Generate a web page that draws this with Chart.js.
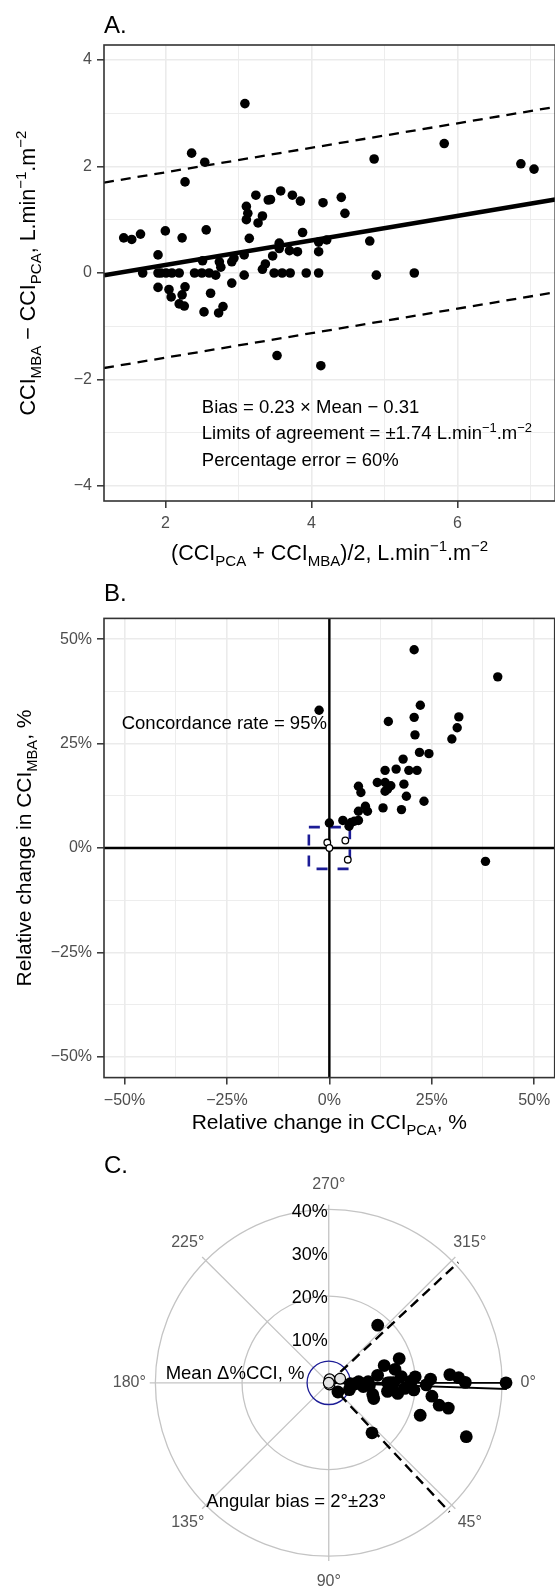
<!DOCTYPE html>
<html>
<head>
<meta charset="utf-8">
<title>CCI agreement: Bland–Altman, four-quadrant and polar plots</title>
<script src="https://cdn.jsdelivr.net/npm/chart.js@4.4.1/dist/chart.umd.min.js"></script>
<style>
  html, body { margin: 0; padding: 0; background: #fff; width: 555px; height: 1595px; overflow: hidden; }
  canvas { position: absolute; left: 0; display: block; }
</style>
</head>
<body>
<canvas id="panelA" width="560" height="575" style="top:0;width:560px;height:575px"></canvas>
<canvas id="panelB" width="560" height="565" style="top:575px;width:560px;height:565px"></canvas>
<canvas id="panelC" width="555" height="455" style="top:1140px;width:555px;height:455px"></canvas>
<script>
const FONT = "'Liberation Sans', Arial, Helvetica, sans-serif";
Chart.defaults.font.family = FONT;

const INK = '#000000';
const AXIS_INK = '#333333';
const TICK_INK = '#4D4D4D';
const GRID_INK = '#EBEBEB';
const POLAR_GRID = '#C4C4C4';
const BLUE = '#1C1C96';

// ---------- A. Bland–Altman: difference vs mean ----------
const meanA = [3.09, 2.36, 2.54, 2.27, 4.86, 5.82, 6.87, 7.05,
  3.24, 3.41, 3.44, 3.58, 3.74, 3.85, 4.16, 4.41, 4.46,
  3.11, 3.13, 3.11, 3.33, 3.27,
  1.43, 1.54, 1.66, 2.00, 2.23, 2.56,
  3.15, 3.88, 4.80, 4.21, 4.10,
  3.56, 3.56, 3.70, 3.81, 4.10,
  3.47, 3.08, 1.90, 2.94, 2.91, 2.74, 2.76, 2.51, 3.33, 3.37,
  1.69, 1.90, 1.94, 2.01, 2.09, 2.19, 2.40, 2.50, 2.60, 2.69, 3.08, 3.49, 3.60, 3.71, 3.93, 4.10,
  4.89, 5.41,
  1.90, 2.05, 2.08, 2.27, 2.23, 2.19, 2.26, 2.62, 2.53, 2.73, 2.79, 2.91, 3.53, 4.13];
const diffA = [3.18, 2.25, 2.08, 1.71, 2.14, 2.43, 2.05, 1.95,
  1.46, 1.37, 1.38, 1.54, 1.46, 1.35, 1.32, 1.42, 1.12,
  1.25, 1.12, 1.00, 1.07, 0.94,
  0.66, 0.63, 0.73, 0.79, 0.66, 0.81,
  0.65, 0.76, 0.60, 0.62, 0.58,
  0.56, 0.46, 0.42, 0.40, 0.40,
  0.32, 0.34, 0.34, 0.28, 0.21, 0.21, 0.11, 0.23, 0.07, 0.17,
  0, 0, 0, 0, 0, 0, 0, 0, 0, -0.04, -0.04, 0, 0, 0, 0, 0,
  -0.04, 0,
  -0.27, -0.31, -0.45, -0.26, -0.41, -0.58, -0.62, -0.38, -0.73, -0.75, -0.63, -0.19, -1.55, -1.74];
const A_X_TICKS = [2, 4, 6];
const A_Y_TICKS = [-4, -2, 0, 2, 4];
const A_X_RANGE = [1.16, 7.34];
const A_Y_RANGE = [-4.28, 4.28];
const BIAS_SLOPE = 0.23;
const BIAS_INTERCEPT = -0.31;
const LIMITS_OF_AGREEMENT = 1.74;
const PERCENTAGE_ERROR = 60;

// ---------- B. Four-quadrant plot of relative changes ----------
const changePcaB = [20.7, 41.1, -2.5, 14.4, 20.7, 22.2, 20.9, 31.6, 31.2, 29.9, 22.0, 24.3, 18.0, 16.3,
  13.6, 19.4, 21.4, 11.7, 13.6, 15.0, 14.2, 13.6, 18.2, 18.8, 7.1, 7.7, 23.1, 13.1, 17.6, 7.1, 8.8, 9.3,
  5.3, 6.1, 7.1, 3.3, 0.0, 38.1, 4.8];
const changeMbaB = [47.5, 41.0, 33.0, 30.3, 31.3, 34.2, 27.1, 31.4, 28.8, 26.1, 22.9, 22.6, 21.3, 18.9,
  18.6, 18.6, 18.6, 15.7, 15.7, 14.9, 14.1, 13.6, 15.3, 12.4, 14.8, 13.3, 11.2, 9.6, 9.2, 8.8, 10.0, 8.8,
  6.1, 6.4, 6.6, 6.6, 6.0, -3.2, 5.2];
const changePcaExcludedB = [-0.5, 0, 3.9, 4.5];
const changeMbaExcludedB = [1.3, 0, 1.8, -2.8];
const B_TICKS = [-50, -25, 0, 25, 50];
const B_RANGE = [-55, 55];
const CONCORDANCE_RATE = 95;
const EXCLUSION_ZONE = 5;

// ---------- C. Polar plot: angle (deg, clockwise from 0°) and mean change (%) ----------
const angleC = [21.5, 0, 49.3, 19.6, 11.5, 12.0, 7.4, -0.2, -2.3, -3.9, 1.2, -2.1, 4.8, 4.2, 8.8, -1.2,
  -4.0, 8.3, 4.1, -0.2, -0.2, 0, -5.0, -11.6, 19.4, 14.9, -19.1, -8.8, -17.4, 6.1, 3.7, -1.6, 4.0, 1.4,
  -2.1, 18.4, 45, -49.8, 2.3];
const meanChangeC = [34.1, 40.9, 15.3, 22.4, 26.0, 28.2, 24.0, 31.5, 30.0, 28.0, 22.5, 23.5, 19.7, 17.6,
  16.1, 19.0, 20.0, 13.7, 14.7, 15.0, 14.2, 13.6, 16.8, 15.6, 11.0, 10.5, 17.2, 11.4, 13.4, 8.0, 9.4, 9.1,
  5.7, 6.3, 6.9, 5.0, 3.0, 17.5, 5.0];
const angleExcludedC = [-77, -20, 66, 0];
const meanChangeExcludedC = [0.85, 2.8, 0.4, 0];
const C_RINGS = [20, 40];
const C_RADIAL_LABELS = [10, 20, 30, 40];
const C_SPOKES = [0, 45, 90, 135, 180, 225, 270, 315];
const ANGULAR_BIAS = 2;
const ANGULAR_SD = 23;

// ---------- helpers ----------
const signed = v => (v < 0 ? '\u2212' : '') + Math.abs(v);
const pct = v => signed(v) + '%';

// segments: [text, kind] with kind undefined (normal), 'b' (subscript) or 'p' (superscript)
function richWidth(ctx, segs, size) {
  let w = 0;
  for (const [t, k] of segs) {
    ctx.font = `${k ? size * 0.7 : size}px ${FONT}`;
    w += ctx.measureText(t).width;
  }
  return w;
}
function drawRich(ctx, segs, x, y, o) {
  const size = o.size;
  ctx.save();
  ctx.translate(x, y);
  if (o.rotate) ctx.rotate(o.rotate);
  ctx.fillStyle = o.color || INK;
  ctx.textBaseline = 'alphabetic';
  ctx.textAlign = 'left';
  const w = richWidth(ctx, segs, size);
  let cx = o.align === 'center' ? -w / 2 : o.align === 'right' ? -w : 0;
  for (const [t, k] of segs) {
    ctx.font = `${k ? size * 0.7 : size}px ${FONT}`;
    const dy = k === 'b' ? size * 0.28 : k === 'p' ? -size * 0.42 : 0;
    ctx.fillText(t, cx, dy);
    cx += ctx.measureText(t).width;
  }
  ctx.restore();
}

function gridAxis({ range, step, labelled, fmt, size, isX }) {
  const major = v => labelled.some(t => Math.abs(t - v) < 1e-6);
  return {
    type: 'linear', min: range[0], max: range[1],
    border: { display: false },
    grid: {
      color: GRID_INK,
      lineWidth: c => (c.tick && major(c.tick.value)) ? 1.6 : 0.9,
      tickLength: 7,
      tickWidth: 1.5,
      tickColor: c => (c.tick && major(c.tick.value)) ? AXIS_INK : 'rgba(0,0,0,0)'
    },
    ticks: {
      stepSize: step, includeBounds: false, autoSkip: false, maxRotation: 0, minRotation: 0,
      padding: isX ? 6 : 5, color: TICK_INK, font: { size: 16 },
      callback: v => major(v) ? fmt(v) : ''
    },
    afterFit: s => {
      if (isX) s.height = size; else s.width = size;
      s.paddingLeft = 0; s.paddingRight = 0; s.paddingTop = 0; s.paddingBottom = 0;
    }
  };
}

function frame(chart) {
  const { ctx, chartArea: a } = chart;
  ctx.save();
  ctx.strokeStyle = AXIS_INK;
  ctx.lineWidth = 1.6;
  ctx.strokeRect(a.left, a.top, a.right - a.left, a.bottom - a.top);
  ctx.restore();
}

const baseOptions = {
  responsive: false,
  animation: false,
  devicePixelRatio: 1,
  plugins: { legend: { display: false }, tooltip: { enabled: false } }
};

// ---------- Panel A ----------
const biasLine = offset => A_X_RANGE.map(x => ({ x, y: BIAS_SLOPE * x + BIAS_INTERCEPT + offset }));
const A_TITLE_X = [['(CCI'], ['PCA', 'b'], [' + CCI'], ['MBA', 'b'], [')/2, L.min'], ['\u22121', 'p'], ['.m'], ['\u22122', 'p']];
const A_TITLE_Y = [['CCI'], ['MBA', 'b'], [' \u2212 CCI'], ['PCA', 'b'], [', L.min'], ['\u22121', 'p'], ['.m'], ['\u22122', 'p']];
const A_NOTES = [
  [[`Bias = ${BIAS_SLOPE.toFixed(2)} \u00D7 Mean \u2212 ${Math.abs(BIAS_INTERCEPT).toFixed(2)}`]],
  [[`Limits of agreement = \u00B1${LIMITS_OF_AGREEMENT.toFixed(2)} L.min`], ['\u22121', 'p'], ['.m'], ['\u22122', 'p']],
  [[`Percentage error = ${PERCENTAGE_ERROR}%`]]
];

new Chart(document.getElementById('panelA'), {
  type: 'scatter',
  data: {
    datasets: [
      { data: meanA.map((m, i) => ({ x: m, y: diffA[i] })), pointRadius: 4.8, backgroundColor: INK,
        pointBackgroundColor: INK, pointBorderWidth: 0, order: 0 },
      { data: biasLine(0), showLine: true, borderColor: INK, borderWidth: 4.5, pointRadius: 0, order: 1 },
      { data: biasLine(LIMITS_OF_AGREEMENT), showLine: true, borderColor: INK, borderWidth: 2.3,
        borderDash: [10, 7], pointRadius: 0, order: 2 },
      { data: biasLine(-LIMITS_OF_AGREEMENT), showLine: true, borderColor: INK, borderWidth: 2.3,
        borderDash: [10, 7], pointRadius: 0, order: 3 }
    ]
  },
  options: {
    ...baseOptions,
    layout: { padding: { top: 45, left: 0, right: 3, bottom: 0 } },
    scales: {
      x: gridAxis({ range: A_X_RANGE, step: 1, labelled: A_X_TICKS, fmt: signed, size: 74, isX: true }),
      y: gridAxis({ range: A_Y_RANGE, step: 1, labelled: A_Y_TICKS, fmt: signed, size: 104, isX: false })
    }
  },
  plugins: [{
    id: 'panelAText',
    afterDatasetsDraw(chart) {
      const { ctx, chartArea: a, scales: { x, y } } = chart;
      frame(chart);
      A_NOTES.forEach((segs, i) => {
        drawRich(ctx, segs, x.getPixelForValue(2.5), y.getPixelForValue(-2.5 - 0.5 * i) + 0.36 * 18.5, { size: 18.5 });
      });
      drawRich(ctx, A_TITLE_X, (a.left + a.right) / 2, 560, { size: 21.5, align: 'center' });
      drawRich(ctx, A_TITLE_Y, 35, (a.top + a.bottom) / 2, { size: 21.5, align: 'center', rotate: -Math.PI / 2 });
      drawRich(ctx, [['A.']], 104, 33, { size: 24 });
    }
  }]
});

// ---------- Panel B ----------
const B_TITLE_X = [['Relative change in CCI'], ['PCA', 'b'], [', %']];
const B_TITLE_Y = [['Relative change in CCI'], ['MBA', 'b'], [', %']];

new Chart(document.getElementById('panelB'), {
  type: 'scatter',
  data: {
    datasets: [
      { data: changePcaExcludedB.map((v, i) => ({ x: v, y: changeMbaExcludedB[i] })), pointRadius: 3.3,
        pointBackgroundColor: '#FFFFFF', pointBorderColor: INK, pointBorderWidth: 1.3, order: 0 },
      { data: changePcaB.map((v, i) => ({ x: v, y: changeMbaB[i] })), pointRadius: 4.7,
        backgroundColor: INK, pointBackgroundColor: INK, pointBorderWidth: 0, order: 1 }
    ]
  },
  options: {
    ...baseOptions,
    layout: { padding: { top: 43.4, left: 0, right: 3, bottom: 0 } },
    scales: {
      x: gridAxis({ range: B_RANGE, step: 12.5, labelled: B_TICKS, fmt: pct, size: 62.4, isX: true }),
      y: gridAxis({ range: B_RANGE, step: 12.5, labelled: B_TICKS, fmt: pct, size: 104, isX: false })
    }
  },
  plugins: [{
    id: 'panelBDecor',
    beforeDatasetsDraw(chart) {
      const { ctx, chartArea: a, scales: { x, y } } = chart;
      ctx.save();
      ctx.strokeStyle = INK;
      ctx.lineWidth = 2.4;
      ctx.beginPath();
      ctx.moveTo(x.getPixelForValue(0), a.top); ctx.lineTo(x.getPixelForValue(0), a.bottom);
      ctx.moveTo(a.left, y.getPixelForValue(0)); ctx.lineTo(a.right, y.getPixelForValue(0));
      ctx.stroke();
      // exclusion zone
      const x0 = x.getPixelForValue(-EXCLUSION_ZONE), x1 = x.getPixelForValue(EXCLUSION_ZONE);
      const y0 = y.getPixelForValue(EXCLUSION_ZONE), y1 = y.getPixelForValue(-EXCLUSION_ZONE);
      ctx.strokeStyle = BLUE;
      ctx.lineWidth = 2.6;
      ctx.setLineDash([11, 10]);
      ctx.strokeRect(x0, y0, x1 - x0, y1 - y0);
      ctx.restore();
    },
    afterDatasetsDraw(chart) {
      const { ctx, chartArea: a, scales: { x, y } } = chart;
      frame(chart);
      drawRich(ctx, [[`Concordance rate = ${CONCORDANCE_RATE}%`]], x.getPixelForValue(-0.6),
        y.getPixelForValue(30) + 0.36 * 18.5, { size: 18.5, align: 'right' });
      drawRich(ctx, B_TITLE_X, (a.left + a.right) / 2, 554, { size: 21, align: 'center' });
      drawRich(ctx, B_TITLE_Y, 31, (a.top + a.bottom) / 2, { size: 21, align: 'center', rotate: -Math.PI / 2 });
      drawRich(ctx, [['B.']], 104, 25.7, { size: 24 });
    }
  }]
});

// ---------- Panel C ----------
const C_CENTER = { x: 330, y: 243.3 };   // pole position inside the canvas
const C_PX_PER_PCT = 4.44;
const C_SPOKE_LEN = 41.3;
const C_LABEL_R = 46;
const toXY = (deg, r) => ({ x: r * Math.cos(deg * Math.PI / 180), y: r * Math.sin(deg * Math.PI / 180) });
const C_MAX = Math.max(...meanChangeC);
const loaAngle = 1.96 * ANGULAR_SD;
const cvs = document.getElementById('panelC');

new Chart(cvs, {
  type: 'scatter',
  data: {
    datasets: [
      { data: angleExcludedC.map((a, i) => toXY(a, meanChangeExcludedC[i])), pointRadius: 5.4,
        pointBackgroundColor: '#E4E4E4', pointBorderColor: INK, pointBorderWidth: 1.2, order: 0 },
      { data: angleC.map((a, i) => toXY(a, meanChangeC[i])), pointRadius: 6.4,
        backgroundColor: INK, pointBackgroundColor: INK, pointBorderWidth: 0, order: 1 },
      { data: [toXY(0, 0), toXY(0, C_MAX), toXY(ANGULAR_BIAS, C_MAX), toXY(0, 0)], showLine: true,
        borderColor: INK, borderWidth: 1.9, pointRadius: 0, order: 2 },
      { data: [toXY(ANGULAR_BIAS - loaAngle, 0), toXY(ANGULAR_BIAS - loaAngle, C_MAX)], showLine: true,
        borderColor: INK, borderWidth: 2.4, borderDash: [10, 6], pointRadius: 0, order: 3 },
      { data: [toXY(ANGULAR_BIAS + loaAngle, 0), toXY(ANGULAR_BIAS + loaAngle, C_MAX)], showLine: true,
        borderColor: INK, borderWidth: 2.4, borderDash: [10, 6], pointRadius: 0, order: 4 }
    ]
  },
  options: {
    ...baseOptions,
    layout: { padding: 0 },
    scales: {
      x: { type: 'linear', display: false,
           min: -C_CENTER.x / C_PX_PER_PCT, max: (cvs.width - C_CENTER.x) / C_PX_PER_PCT },
      y: { type: 'linear', display: false, reverse: true,
           min: -C_CENTER.y / C_PX_PER_PCT, max: (cvs.height - C_CENTER.y) / C_PX_PER_PCT }
    }
  },
  plugins: [{
    id: 'panelCGrid',
    beforeDatasetsDraw(chart) {
      const { ctx, scales: { x, y } } = chart;
      const cx = x.getPixelForValue(0), cy = y.getPixelForValue(0);
      const pr = r => x.getPixelForValue(r) - cx;
      ctx.save();
      ctx.strokeStyle = POLAR_GRID;
      ctx.lineWidth = 1.3;
      C_RINGS.forEach(r => { ctx.beginPath(); ctx.arc(cx, cy, pr(r), 0, Math.PI * 2); ctx.stroke(); });
      C_SPOKES.forEach(a => {
        const p = toXY(a, C_SPOKE_LEN);
        ctx.beginPath(); ctx.moveTo(cx, cy);
        ctx.lineTo(x.getPixelForValue(p.x), y.getPixelForValue(p.y)); ctx.stroke();
      });
      ctx.strokeStyle = BLUE;
      ctx.lineWidth = 1.3;
      ctx.beginPath(); ctx.arc(cx, cy, pr(EXCLUSION_ZONE), 0, Math.PI * 2); ctx.stroke();
      ctx.restore();
    },
    afterDatasetsDraw(chart) {
      const { ctx, scales: { x, y } } = chart;
      const cx = x.getPixelForValue(0);
      ctx.save();
      ctx.font = `16px ${FONT}`;
      ctx.fillStyle = '#555555';
      ctx.textAlign = 'center';
      ctx.textBaseline = 'middle';
      C_SPOKES.forEach(a => {
        const p = toXY(a, C_LABEL_R);
        ctx.fillText(`${a}\u00B0`, x.getPixelForValue(p.x), y.getPixelForValue(p.y));
      });
      ctx.restore();
      C_RADIAL_LABELS.forEach(r => {
        drawRich(ctx, [[`${r}%`]], cx - 1, y.getPixelForValue(-r) + 0.36 * 18, { size: 18, align: 'right' });
      });
      drawRich(ctx, [['Mean \u0394%CCI, %']], x.getPixelForValue(-5.6), y.getPixelForValue(-2.4) + 0.36 * 18.5,
        { size: 18.5, align: 'right' });
      drawRich(ctx, [[`Angular bias = ${ANGULAR_BIAS}\u00B0\u00B1${ANGULAR_SD}\u00B0`]], x.getPixelForValue(-7.5),
        y.getPixelForValue(27.2) + 0.36 * 18.5, { size: 18.5, align: 'center' });
      drawRich(ctx, [['C.']], 104, 33.3, { size: 24 });
    }
  }]
});
</script>
</body>
</html>
